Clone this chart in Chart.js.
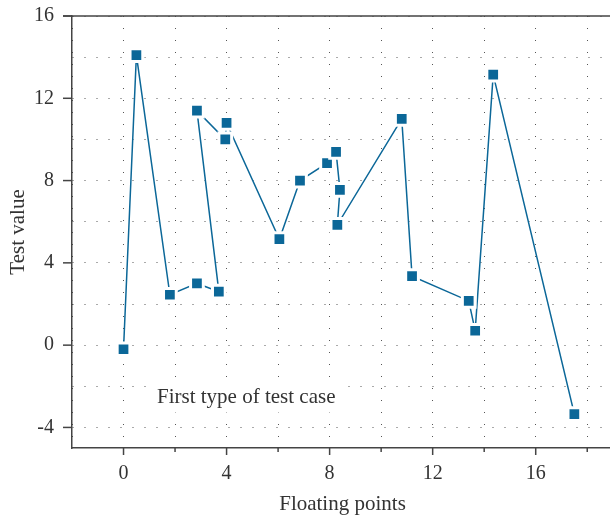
<!DOCTYPE html>
<html>
<head>
<meta charset="utf-8">
<script src="https://cdn.jsdelivr.net/npm/chart.js@4"></script>
<style>
  html, body { margin: 0; padding: 0; background: #fff; overflow: hidden; }
  #wrap { width: 613px; height: 517px; }
</style>
</head>
<body>
<div id="wrap"><canvas id="chart"></canvas></div>
<script>
// Valores (na ordem em que a linha passa)
const xValues = [0, 0.5, 1.8, 2.85, 3.7, 2.85, 3.95, 4.0, 6.05, 6.85, 7.9, 8.25, 8.4, 8.3, 10.8, 11.2, 13.4, 13.65, 14.35, 17.5];
const yValues = [-0.2, 14.1, 2.45, 3.0, 2.6, 11.4, 10.0, 10.8, 5.15, 8.0, 8.85, 9.4, 7.55, 5.85, 11.0, 3.35, 2.15, 0.7, 13.15, -3.35];

// Ticks dos eixos
const xTicks = [-2, 0, 2, 4, 6, 8, 10, 12, 14, 16, 18];
const xLabels = [0, 4, 8, 12, 16];
const yTicks = [-4, -2, 0, 2, 4, 6, 8, 10, 12, 14, 16];
const yLabels = [-4, 0, 4, 8, 12, 16];

const note = 'First type of test case';
const blue = '#0b6798';
const ink = '#333333';

Chart.defaults.font.family = '"Liberation Serif", serif';
Chart.defaults.font.size = 20;
Chart.defaults.color = ink;

const points = xValues.map((x, i) => ({ x: x, y: yValues[i] }));

// tira o espaço extra que o Chart.js reserva para os rótulos
function noPad(s) {
  s.paddingTop = 0;
  s.paddingBottom = 0;
  s.paddingLeft = 0;
  s.paddingRight = 0;
}

// Borda de cima, marcas dos eixos e texto da legenda
const extras = {
  id: 'extras',
  beforeDatasetsDraw(chart) {
    const ctx = chart.ctx;
    const a = chart.chartArea;
    const xs = chart.scales.x, ys = chart.scales.y;
    ctx.save();
    ctx.strokeStyle = '#444';
    ctx.lineWidth = 1.5;
    ctx.beginPath();
    ctx.moveTo(a.left - 9, a.top);
    ctx.lineTo(a.right, a.top);
    ctx.stroke();
    xTicks.forEach(v => {
      if (v <= -2) return;
      const px = xs.getPixelForValue(v);
      const len = xLabels.includes(v) ? 7 : 4;
      ctx.beginPath();
      ctx.moveTo(px, a.bottom);
      ctx.lineTo(px, a.bottom + len);
      ctx.stroke();
    });
    yLabels.forEach(v => {
      const py = ys.getPixelForValue(v);
      ctx.beginPath();
      ctx.moveTo(a.left - 9, py);
      ctx.lineTo(a.left, py);
      ctx.stroke();
    });
    // caixa branca atrás do texto
    const tx = xs.getPixelForValue(1.3);
    const ty = ys.getPixelForValue(-2.55);
    ctx.font = '21px "Liberation Serif", serif';
    const w = ctx.measureText(note).width;
    ctx.fillStyle = '#fff';
    ctx.fillRect(tx - 10, ty - 17, w + 16, 32);
    ctx.fillStyle = ink;
    ctx.textBaseline = 'middle';
    ctx.fillText(note, tx, ty);
    ctx.restore();
  }
};

const config = {
  type: 'scatter',
  data: {
    datasets: [{
      data: points,
      showLine: true,
      borderColor: blue,
      borderWidth: 1.5,
      pointStyle: 'rect',
      pointRadius: 9,
      pointHoverRadius: 9,
      pointBackgroundColor: blue,
      pointBorderColor: '#fff',
      pointBorderWidth: 3
    }]
  },
  options: {
    responsive: true,
    maintainAspectRatio: false,
    animation: false,
    layout: { autoPadding: false, padding: { top: 16, left: 0, right: 0, bottom: 0 } },
    plugins: { legend: { display: false }, tooltip: { enabled: false } },
    scales: {
      x: {
        type: 'linear',
        min: -2,
        max: 19,
        afterBuildTicks: s => { s.ticks = xTicks.map(v => ({ value: v })); },
        afterFit: s => { s.height = 69; noPad(s); },
        grid: { color: '#555', lineWidth: 1, drawTicks: false },
        border: { color: '#444', width: 1.5, dash: [1, 11] },
        ticks: {
          padding: 14,
          maxRotation: 0,
          autoSkip: false,
          callback: v => xLabels.includes(v) ? String(v) : ''
        },
        title: { display: true, text: 'Floating points', padding: { top: 4, bottom: 0 }, font: { size: 21 } }
      },
      y: {
        type: 'linear',
        min: -5,
        max: 16,
        afterBuildTicks: s => { s.ticks = yTicks.map(v => ({ value: v })); },
        afterFit: s => { s.width = 72; noPad(s); },
        grid: { color: '#555', lineWidth: 1, drawTicks: false },
        border: { color: '#444', width: 1.5, dash: [1, 11] },
        ticks: {
          padding: 18,
          autoSkip: false,
          callback: v => yLabels.includes(v) ? String(v) : ''
        },
        title: { display: true, text: 'Test value', padding: { top: 6, bottom: 0 }, font: { size: 21 } }
      }
    }
  },
  plugins: [extras]
};

const chartElement = document.getElementById('chart');
const myChart = new Chart(chartElement, config);
</script>
</body>
</html>
